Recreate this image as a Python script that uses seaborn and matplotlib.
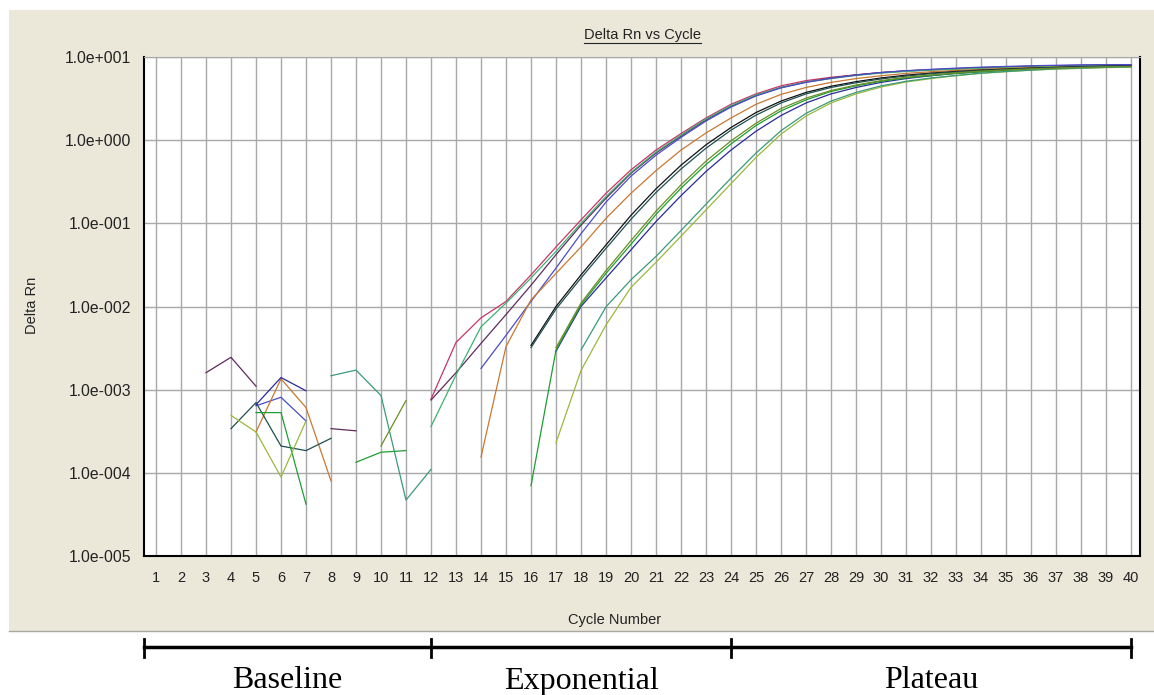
import numpy as np
import pandas as pd
import matplotlib
matplotlib.use("Agg")
import matplotlib.pyplot as plt
import matplotlib.transforms as mtransforms
from matplotlib.lines import Line2D
from matplotlib.patches import Rectangle
from matplotlib.ticker import NullLocator
import seaborn as sns

nan = float("nan")

# Delta Rn per cycle (1..40) for each well, nan = not shown on the log plot
cycles = list(range(1, 41))

well_a = [nan] * 11 + [7.7e-4, 3.7e-3, 7.3e-3, 1.15e-2, 2.4e-2, 5.2e-2, 0.11, 0.23, 0.44, 0.76,
                       1.2, 1.85, 2.7, 3.6, 4.5, 5.2, 5.7, 6.1, 6.5, 6.8,
                       7.0, 7.2, 7.4, 7.55, 7.7, 7.8, 7.9, 7.95, 8.0]
well_b = [nan, nan, 1.6e-3, 2.45e-3, 1.1e-3, nan, nan, 3.4e-4, 3.2e-4, nan, nan,
          7.5e-4, 1.6e-3, 3.6e-3, 8e-3, 1.8e-2, 4.2e-2, 9.5e-2, 0.2, 0.4, 0.7,
          1.12, 1.75, 2.55, 3.45, 4.3, 5.0, 5.6, 6.1, 6.5, 6.8,
          7.05, 7.25, 7.45, 7.6, 7.75, 7.85, 7.95, 8.0, 8.05]
well_c = [nan] * 11 + [3.6e-4, 1.5e-3, 5.7e-3, 1.1e-2, 2.2e-2, 4.6e-2, 0.1, 0.21, 0.41, 0.72,
                       1.15, 1.8, 2.6, 3.5, 4.3, 5.0, 5.5, 6.0, 6.4, 6.7,
                       6.95, 7.15, 7.3, 7.45, 7.6, 7.7, 7.8, 7.85, 7.9]
well_d = [nan] * 4 + [6.4e-4, 8.1e-4, 4.2e-4] + [nan] * 6 + [
          1.8e-3, 4.5e-3, 1.15e-2, 2.9e-2, 7.5e-2, 0.18, 0.37, 0.66,
          1.08, 1.7, 2.5, 3.4, 4.25, 4.95, 5.55, 6.05, 6.5, 6.85,
          7.1, 7.35, 7.55, 7.7, 7.85, 7.95, 8.05, 8.1, 8.1]
well_e = [nan] * 4 + [3.1e-4, 1.35e-3, 6.1e-4, 8e-5] + [nan] * 5 + [
          1.55e-4, 3.3e-3, 1.2e-2, 2.5e-2, 5.2e-2, 0.115, 0.23, 0.43,
          0.76, 1.22, 1.85, 2.7, 3.55, 4.3, 4.95, 5.5, 5.95, 6.35,
          6.65, 6.9, 7.1, 7.3, 7.45, 7.55, 7.65, 7.7, 7.75]
well_f = [nan] * 15 + [3.4e-3, 1.0e-2, 2.4e-2, 5.5e-2, 0.125, 0.26,
                       0.5, 0.88, 1.42, 2.15, 2.95, 3.75, 4.45, 5.05, 5.6, 6.05,
                       6.4, 6.7, 6.95, 7.15, 7.35, 7.5, 7.65, 7.75, 7.85]
well_f2 = [nan] * 3 + [3.4e-4, 7.0e-4, 2.1e-4, 1.85e-4, 2.6e-4] + [nan] * 7 + [
           3.2e-3, 9.3e-3, 2.2e-2, 5.0e-2, 0.112, 0.235,
           0.45, 0.8, 1.32, 2.0, 2.8, 3.6, 4.3, 4.9, 5.45, 5.9,
           6.3, 6.6, 6.9, 7.1, 7.3, 7.45, 7.6, 7.7, 7.8]
well_g = [nan] * 4 + [6.6e-4, 1.4e-3, 9.7e-4] + [nan] * 9 + [
          2.9e-3, 1.0e-2, 2.2e-2, 4.8e-2, 0.105,
          0.215, 0.42, 0.76, 1.28, 1.98, 2.8, 3.6, 4.3, 4.95, 5.5,
          5.95, 6.35, 6.65, 6.95, 7.2, 7.4, 7.55, 7.7, 7.8]
well_h = [nan] * 4 + [5.3e-4, 5.3e-4, 4.2e-5, nan, 1.34e-4, 1.77e-4, 1.85e-4] + [nan] * 4 + [
          7e-5, 3.0e-3, 1.05e-2, 2.5e-2, 5.6e-2, 0.128,
          0.265, 0.51, 0.9, 1.5, 2.25, 3.05, 3.85, 4.5, 5.1, 5.6,
          6.0, 6.35, 6.65, 6.9, 7.1, 7.3, 7.45, 7.55, 7.65]
well_i = [nan] * 3 + [4.9e-4, 3.1e-4, 8.9e-5, 4.2e-4] + [nan] * 9 + [
          2.3e-4, 1.7e-3, 6.0e-3, 1.7e-2, 3.4e-2,
          7.0e-2, 0.145, 0.3, 0.62, 1.18, 1.95, 2.8, 3.6, 4.35, 5.0,
          5.5, 5.95, 6.35, 6.65, 6.95, 7.15, 7.3, 7.45, 7.55]
well_j = [nan] * 7 + [1.47e-3, 1.72e-3, 8.5e-4, 4.7e-5, 1.1e-4] + [nan] * 5 + [
          3.0e-3, 9.9e-3, 2.1e-2, 4.0e-2,
          8.2e-2, 0.17, 0.35, 0.7, 1.3, 2.1, 2.95, 3.75, 4.5, 5.1,
          5.6, 6.0, 6.4, 6.7, 6.95, 7.2, 7.35, 7.5, 7.6]
well_k = [nan] * 9 + [2.1e-4, 7.4e-4] + [nan] * 5 + [
          3.2e-3, 1.1e-2, 2.7e-2, 6.2e-2, 0.14,
          0.29, 0.56, 0.98, 1.6, 2.4, 3.2, 3.95, 4.6, 5.2, 5.7,
          6.1, 6.45, 6.75, 7.0, 7.2, 7.35, 7.5, 7.6, 7.7]

wells = {"A1": well_a, "A2": well_b, "A3": well_c, "A4": well_d, "A5": well_e,
         "A6": well_f, "A7": well_f2, "A8": well_g, "A9": well_h, "A10": well_i,
         "A11": well_j, "A12": well_k}
colors = {"A1": "#cc3366", "A2": "#5e2a5e", "A3": "#3cb371", "A4": "#4b4bc8",
          "A5": "#c87832", "A6": "#111111", "A7": "#1f4f4f", "A8": "#2a2a9a",
          "A9": "#1e9e32", "A10": "#9ab83c", "A11": "#3a9a7a", "A12": "#6b8e23"}

y_ticks = [1e-5, 1e-4, 1e-3, 1e-2, 1e-1, 1e0, 1e1]
y_tick_labels = ["1.0e-005", "1.0e-004", "1.0e-003", "1.0e-002",
                 "1.0e-001", "1.0e+000", "1.0e+001"]
phases = ["Baseline", "Exponential", "Plateau"]
phase_edges = [0.52, 12, 24, 40]

# long table, one segment id per unbroken run of values
rows = []
seg = 0
for name, vals in wells.items():
    prev_nan = True
    for c, v in zip(cycles, vals):
        if np.isnan(v):
            prev_nan = True
            continue
        if prev_nan:
            seg += 1
            prev_nan = False
        rows.append({"cycle": c, "delta_rn": v, "well": name, "segment": seg})
df = pd.DataFrame(rows)

plt.rcParams["font.family"] = ["Liberation Sans", "DejaVu Sans"]

W, H = 1154, 695
fig = plt.figure(figsize=(W / 100, H / 100), dpi=100)
fig.patch.set_facecolor("white")

# beige panel behind the chart
fig.patches.append(Rectangle((9 / W, 1 - 631 / H), 1, (631 - 10) / H,
                             transform=fig.transFigure, facecolor="#ebe8da",
                             edgecolor="none", zorder=-5))
fig.add_artist(Line2D([9 / W, 1], [1 - 631 / H] * 2, color="#a8a8a0", lw=1))

ax = fig.add_axes([144 / W, 1 - 556 / H, (1140 - 144) / W, (556 - 57) / H])
ax.set_zorder(2)
ax.set_facecolor("white")

sns.lineplot(data=df, x="cycle", y="delta_rn", hue="well", units="segment",
             estimator=None, palette=colors, legend=False, linewidth=0.9, ax=ax)

ax.set_yscale("log")
ax.set_ylim(1e-5, 10)
ax.set_xlim(0.52, 40.36)
ax.set_xticks(cycles)
ax.set_xticklabels([str(c) for c in cycles])
ax.set_yticks(y_ticks)
ax.set_yticklabels(y_tick_labels)
ax.yaxis.set_minor_locator(NullLocator())
ax.tick_params(length=0, colors="#222222")
ax.tick_params(axis="y", pad=9, labelsize=11.3)
ax.tick_params(axis="x", pad=11, labelsize=10.5)
ax.grid(True, color="#a8a8a8", lw=1)
ax.set_axisbelow(True)
ax.set_xlabel("")
ax.set_ylabel("")
for side in ["left", "bottom", "right"]:
    ax.spines[side].set_color("black")
    ax.spines[side].set_linewidth(1.5)
ax.spines["top"].set_color("#a8a8a8")

title = fig.text(642 / W, 1 - 35 / H, "Delta Rn vs Cycle", ha="center", va="center",
                 fontsize=10.5, color="#222222")
fig.text(32 / W, 1 - 305 / H, "Delta Rn", rotation=90, ha="center", va="center",
         fontsize=10.5, color="#222222")
fig.text(615 / W, 1 - 620 / H, "Cycle Number", ha="center", va="center",
         fontsize=10.5, color="#222222")

# underline the title
fig.canvas.draw()
bb = title.get_window_extent()
fig.add_artist(Line2D([bb.x0 / W, bb.x1 / W], [(bb.y0 - 1) / H] * 2,
                      color="#222222", lw=0.8))

# phase bar under the chart
blend = mtransforms.blended_transform_factory(ax.transData, fig.transFigure)
y_bar = 1 - 647 / H
fig.add_artist(Line2D([phase_edges[0], phase_edges[-1]], [y_bar, y_bar],
                      transform=blend, color="black", lw=2.5))
for e in phase_edges:
    fig.add_artist(Line2D([e, e], [1 - 639 / H, 1 - 657 / H], transform=blend,
                          color="black", lw=2))
for i, name in enumerate(phases):
    mid = (phase_edges[i] + phase_edges[i + 1]) / 2
    fig.text(mid, 1 - 681 / H, name, transform=blend, ha="center", va="center",
             fontsize=23, family="Liberation Serif", color="black")

fig.savefig("out.png", dpi=100)
